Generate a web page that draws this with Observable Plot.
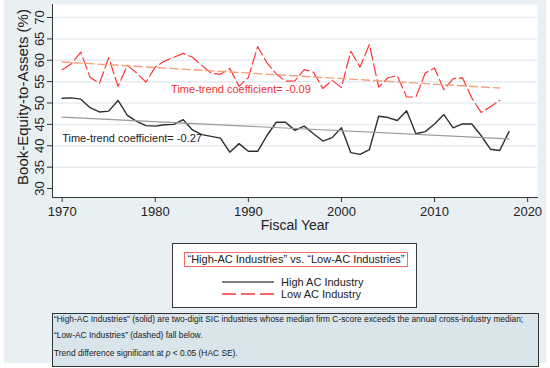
<!DOCTYPE html>
<html>
<head>
<meta charset="utf-8">
<script src="https://cdn.jsdelivr.net/npm/d3@7"></script>
<script src="https://cdn.jsdelivr.net/npm/@observablehq/plot@0.6"></script>
<style>
  html, body { margin: 0; padding: 0; background: #fff; }
  body { width: 550px; height: 368px; overflow: hidden; position: relative; font-family: "Liberation Sans", Arial, sans-serif; }
  #bg { position: absolute; left: 4px; top: 0; width: 542px; height: 363px; background: #e9f0f4; }
  #chart { position: absolute; left: 0; top: 0; }
  #legend { position: absolute; left: 172px; top: 243px; width: 245px; height: 65px; box-sizing: border-box; border: 1px solid #3a3a3a; background: #fff; }
  #legend .title { position: absolute; left: 11px; top: 8px; width: 224px; height: 15px; box-sizing: border-box; border: 1px solid #f66; font-size: 11px; line-height: 13px; text-align: center; color: #222; white-space: nowrap; }
  #legend .row { position: absolute; left: 48px; height: 12px; font-size: 11px; line-height: 12px; color: #222; white-space: nowrap; }
  #legend .row svg { position: absolute; left: 0; top: 0; }
  #legend .row span { position: absolute; left: 60px; top: 0; }
  #note { position: absolute; left: 52px; top: 313px; width: 487px; height: 54px; box-sizing: border-box; border: 1px solid #333; background: #d9e4eb; }
  #note div { position: absolute; left: 1px; font-size: 8.4px; line-height: 10px; color: #222; white-space: nowrap; }
</style>
</head>
<body>
<div id="bg"></div>
<div id="chart"></div>
<div id="legend"></div>
<div id="note"></div>
<script>
// ---- Data ----
const years = [1970,1971,1972,1973,1974,1975,1976,1977,1978,1979,
               1980,1981,1982,1983,1984,1985,1986,1987,1988,1989,
               1990,1991,1992,1993,1994,1995,1996,1997,1998,1999,
               2000,2001,2002,2003,2004,2005,2006,2007,2008,2009,
               2010,2011,2012,2013,2014,2015,2016,2017,2018];
const highAC = [51.1,51.2,50.9,48.9,47.9,48.1,50.6,47.1,45.7,44.7,
                44.6,44.9,45.0,46.1,43.7,42.6,42.2,41.8,38.5,40.5,
                38.7,38.7,42.4,45.5,45.5,43.6,44.6,42.8,41.1,41.9,
                44.2,38.4,38.0,39.1,46.9,46.6,45.9,48.2,42.8,43.3,
                45.1,47.3,44.2,45.1,45.1,42.4,39.2,38.9,43.3];
const lowAC  = [57.8,59.2,61.9,56.0,54.6,60.6,53.9,58.8,57.0,54.9,
                58.4,59.8,60.7,61.6,60.7,58.8,57.0,56.7,58.1,53.9,
                56.0,63.2,59.4,56.8,55.1,55.2,57.8,57.2,53.4,55.3,
                53.6,62.1,58.4,63.7,53.7,55.9,56.4,51.4,51.4,57.0,
                58.2,53.1,55.7,55.9,51.2,47.8,49.1,50.6];
const highTrendYears = [1970, 2018];
const highTrend = [46.7, 41.6];
const lowTrendYears = [1970, 2017];
const lowTrend = [59.6, 53.5];
const yTicks = [30,35,40,45,50,55,60,65,70];
const gridTicks = [35,40,45,50,55,60,65,70];
const xTicks = [1970,1980,1990,2000,2010,2020];
const annotations = [
  {year: 1981.7, value: 53.1, label: "Time-trend coefficient= -0.09", color: "#f03030"},
  {year: 1970.0, value: 41.8, label: "Time-trend coefficient= -0.27", color: "#222"}
];
const legendTitle = "\u201CHigh-AC Industries\u201D vs. \u201CLow-AC Industries\u201D";
const seriesNames = ["High AC Industry", "Low AC Industry"];
const noteLines = [
  "\u201CHigh-AC Industries\u201D (solid) are two-digit SIC industries whose median firm C-score exceeds the annual cross-industry median;",
  "\u201CLow-AC Industries\u201D (dashed) fall below.",
  " Trend difference significant at <i>p</i> &lt; 0.05 (HAC SE)."
];

// ---- Tables ----
const highData = years.map((y, i) => ({year: y, value: highAC[i]}));
const lowData = years.slice(0, lowAC.length).map((y, i) => ({year: y, value: lowAC[i]}));
const highTrendData = highTrendYears.map((y, i) => ({year: y, value: highTrend[i]}));
const lowTrendData = lowTrendYears.map((y, i) => ({year: y, value: lowTrend[i]}));

const ff = "Liberation Sans, Arial, sans-serif";
const chart = Plot.plot({
  width: 550,
  height: 240,
  marginLeft: 52,
  marginRight: 13,
  marginTop: 4,
  marginBottom: 43,
  style: {background: "transparent", fontFamily: ff, color: "#222"},
  x: {domain: [1968.96, 2021.06]},
  y: {domain: [27.9, 73.04]},
  marks: [
    Plot.frame({fill: "white"}),
    Plot.gridY(gridTicks, {stroke: "#e4ecf1", strokeOpacity: 1, strokeWidth: 1.5}),
    Plot.line(highData, {x: "year", y: "value", stroke: "#2e2e2e", strokeWidth: 1.4}),
    Plot.line(lowData, {x: "year", y: "value", stroke: "#ff3333", strokeWidth: 1.2, strokeDasharray: "12,4"}),
    Plot.line(highTrendData, {x: "year", y: "value", stroke: "#9a9a9a", strokeWidth: 1.2}),
    Plot.line(lowTrendData, {x: "year", y: "value", stroke: "#f7a07c", strokeWidth: 1.4, strokeDasharray: "8,4"}),
    Plot.text(annotations, {x: "year", y: "value", text: "label", fill: "color", textAnchor: "start", fontSize: 11}),
    Plot.frame({anchor: "left", stroke: "#333"}),
    Plot.frame({anchor: "bottom", stroke: "#333"}),
    Plot.axisY(yTicks, {tickSize: 5, tickPadding: 4, tickRotate: -90, fontSize: 13, label: null, stroke: "#333"}),
    Plot.axisX(xTicks, {tickSize: 5, tickPadding: 4, tickFormat: d => String(d), fontSize: 13, label: null, stroke: "#333"}),
    Plot.text(["Fiscal Year"], {frameAnchor: "bottom", textAnchor: "middle", dy: 32, fontSize: 14}),
    Plot.text(["Book-Equity-to-Assets (%)"], {frameAnchor: "left", textAnchor: "middle", dx: -29, dy: -4, rotate: -90, fontSize: 15})
  ]
});
document.getElementById("chart").appendChild(chart);

// ---- Legend ----
const legend = document.getElementById("legend");
legend.innerHTML =
  `<div class="title">${legendTitle}</div>` +
  `<div class="row" style="top:32px"><svg width="54" height="12"><line x1="1" x2="53" y1="6" y2="6" stroke="#555" stroke-width="1.6"/></svg><span>${seriesNames[0]}</span></div>` +
  `<div class="row" style="top:44px"><svg width="54" height="12"><line x1="1" x2="53" y1="6" y2="6" stroke="#ff3333" stroke-width="1.3" stroke-dasharray="14,5"/></svg><span>${seriesNames[1]}</span></div>`;

// ---- Note ----
const note = document.getElementById("note");
const noteTops = [0, 16, 34];
note.innerHTML = noteLines.map((t, i) => `<div style="top:${noteTops[i]}px">${t}</div>`).join("");
</script>
</body>
</html>
